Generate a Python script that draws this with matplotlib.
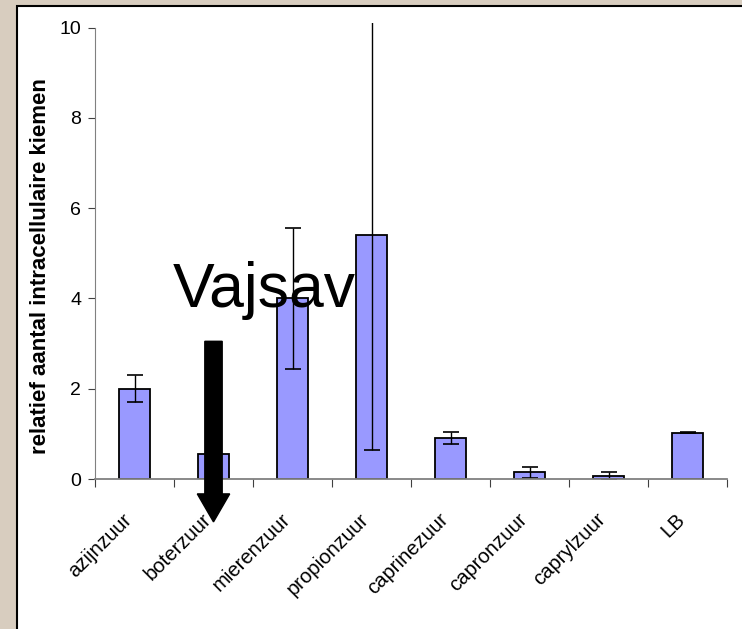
import matplotlib.pyplot as plt
from matplotlib.patches import Rectangle, FancyArrow

# data
zuren = ['azijnzuur', 'boterzuur', 'mierenzuur', 'propionzuur',
         'caprinezuur', 'capronzuur', 'caprylzuur', 'LB']
kiemen = [2.0, 0.55, 4.0, 5.4, 0.9, 0.15, 0.07, 1.02]
fout = [0.3, 0.0, 1.57, 4.75, 0.13, 0.12, 0.08, 0.01]

fig = plt.figure(figsize=(7.42, 6.29), dpi=100)
fig.patch.set_facecolor('#d8cdbf')

# white slide panel
fig.add_artist(Rectangle((17 / 742, -0.1), 1.2, 1.1 - 6 / 629,
                         transform=fig.transFigure, facecolor='white',
                         edgecolor='black', linewidth=1.5, zorder=0))

ax = fig.add_axes([95 / 742, 150 / 629, 632 / 742, 456 / 629])
ax.patch.set_alpha(0)

x = range(len(zuren))
ax.bar(x, kiemen, width=0.4, color='#9999ff', edgecolor='black', linewidth=1.3,
       yerr=fout, capsize=6, error_kw=dict(ecolor='black', elinewidth=1, capthick=1.2))

ax.set_xlim(-0.5, len(zuren) - 0.5)
ax.set_ylim(0, 10.1)
ax.set_yticks([0, 2, 4, 6, 8, 10])
ax.set_xticks([i + 0.5 for i in range(-1, len(zuren))], minor=False)
ax.set_xticklabels([])
# labels sit slightly left of the bar centres
ax.set_xticks([i - 0.07 for i in x], minor=True)
ax.set_xticklabels(zuren, minor=True, rotation=45, ha='right', va='center',
                   rotation_mode='anchor', fontsize=14.6, family='Liberation Sans')
ax.tick_params(axis='x', which='minor', length=0, pad=27)
ax.tick_params(axis='x', which='major', length=6, direction='out', color='#404040')
ax.tick_params(axis='y', length=5, direction='out', color='#404040', labelsize=14, pad=5)
for t in ax.get_yticklabels():
    t.set_family('Liberation Sans')

for s in ['top', 'right']:
    ax.spines[s].set_visible(False)
ax.spines['left'].set_bounds(0, 10)
ax.spines['left'].set_color('#808080')
ax.spines['bottom'].set_color('#808080')
ax.spines['bottom'].set_linewidth(1.3)

ax.set_ylabel('relatief aantal intracellulaire kiemen', fontsize=16, fontweight='bold',
              family='Liberation Sans')
ax.yaxis.set_label_coords(-0.069, 0.468)

# overlay text and arrow
ax.text(0.48, 3.8, 'Vajsav', fontsize=45, family='Liberation Sans', color='black',
        zorder=5)
ax.add_patch(FancyArrow(1, 3.05, 0, -4.0, width=0.22, head_width=0.41, head_length=0.62,
                        length_includes_head=True, color='black', clip_on=False, zorder=6))

fig.savefig('out.png', dpi=100, facecolor=fig.get_facecolor())
